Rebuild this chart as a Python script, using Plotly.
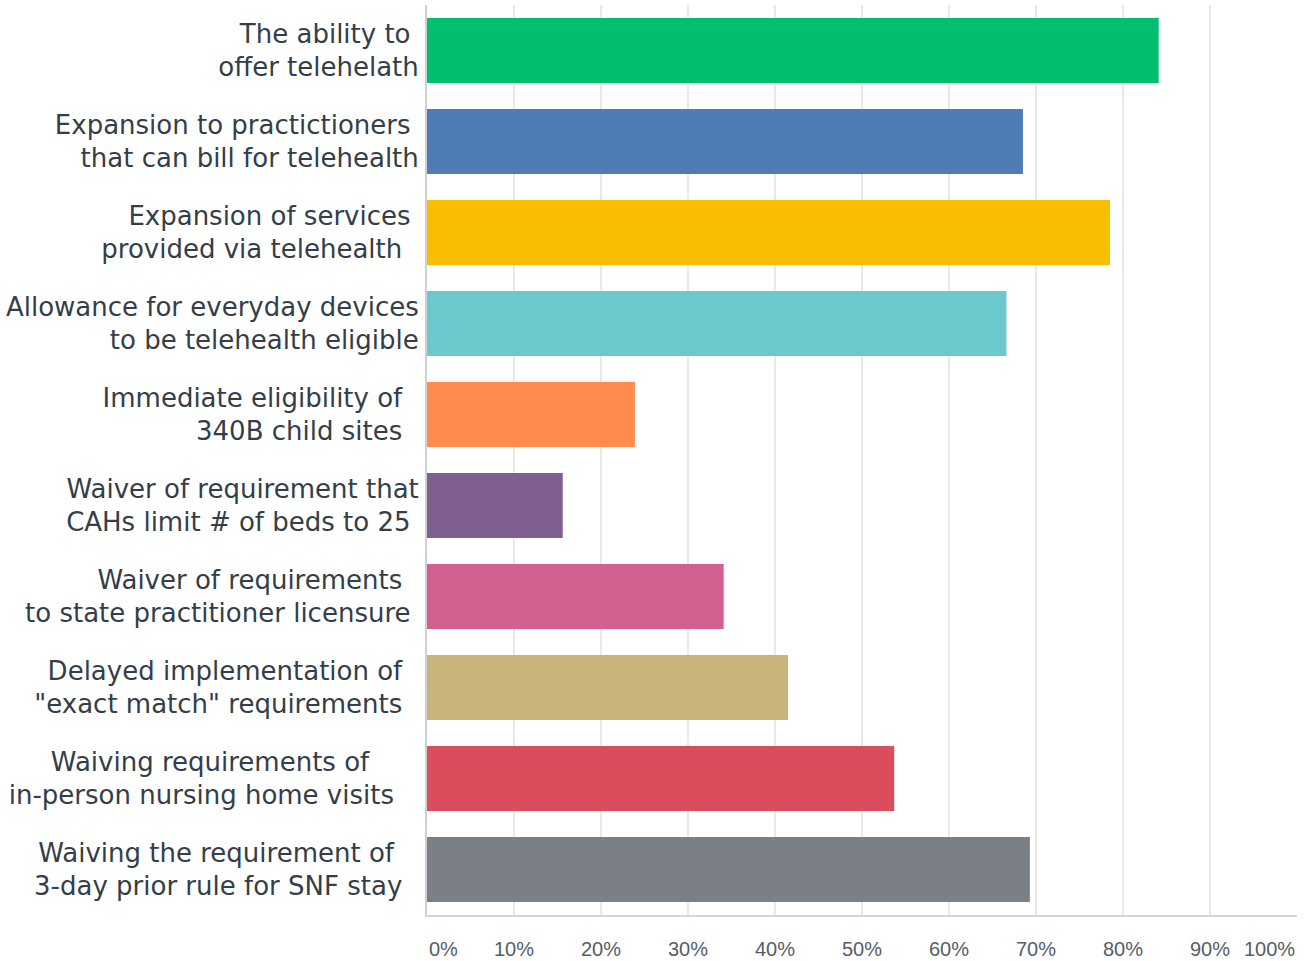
import plotly.graph_objects as go

NB = "\u00a0"

categories = [
    "The ability to" + NB * 1 + "<br>offer telehelath",
    "Expansion to practictioners" + NB * 1 + "<br>that can bill for telehealth",
    "Expansion of services" + NB * 1 + "<br>provided via telehealth" + NB * 2,
    "Allowance for everyday devices<br>to be telehealth eligible",
    "Immediate eligibility of" + NB * 2 + "<br>340B child sites" + NB * 2,
    "Waiver of requirement that<br>CAHs limit # of beds to 25" + NB * 1,
    "Waiver of requirements" + NB * 2 + "<br>to state practitioner licensure" + NB * 1,
    "Delayed implementation of" + NB * 2 + "<br>\"exact match\" requirements" + NB * 2,
    "Waiving requirements of" + NB * 6 + "<br>in-person nursing home visits" + NB * 3,
    "Waiving the requirement of" + NB * 3 + "<br>3-day prior rule for SNF stay" + NB * 2,
]
values = [84.1, 68.5, 78.5, 66.6, 23.9, 15.6, 34.1, 41.5, 53.7, 69.3]
colors = ["#00BF6F", "#507CB6", "#F9BE00", "#6BC8CD", "#FF8B4F",
          "#7F5F90", "#D25F90", "#C9B57B", "#DB4D5C", "#7A8086"]
tick_vals = [0, 10, 20, 30, 40, 50, 60, 70, 80, 90, 100]
tick_text = ["0%", "10%", "20%", "30%", "40%", "50%", "60%",
             "70%", "80%", "90%", "100%"]

tick_font = dict(size=20, color="#545E68", family="Liberation Sans, Arial, sans-serif")

fig = go.Figure(go.Bar(
    x=values, y=categories, orientation="h",
    marker=dict(color=colors, line=dict(width=0)),
    hoverinfo="x+y",
))

# inner ticks drawn by the axis; end ticks as edge-aligned labels (as in the reference)
axis_text = [""] + tick_text[1:-1] + [""]
for v, t, anchor in [(tick_vals[0], tick_text[0], "left"), (tick_vals[-1], tick_text[-1], "right")]:
    fig.add_annotation(x=v, y=0, xref="x", yref="paper", text=t, showarrow=False,
                       xanchor=anchor, yanchor="middle", yshift=-34, font=tick_font)

fig.update_layout(
    width=1304, height=961,
    margin=dict(l=427, r=7, t=5, b=46),
    paper_bgcolor="white", plot_bgcolor="white",
    bargap=0.286,
    showlegend=False,
    font=dict(family="DejaVu Sans, Arial, sans-serif", color="#333E48"),
)
fig.update_xaxes(
    range=[0, 100], tickvals=tick_vals, ticktext=axis_text,
    showgrid=True, gridcolor="#E9E9E9", gridwidth=2,
    zeroline=False, showline=True, linecolor="#D6D6D6", linewidth=2,
    ticks="", ticklabelstandoff=15, automargin=False,
    tickfont=tick_font,
)
fig.update_yaxes(
    autorange="reversed", showgrid=False, zeroline=False,
    showline=True, linecolor="#D0D0D0", linewidth=2,
    ticks="", ticklabelstandoff=1, automargin=False,
    tickfont=dict(size=26, color="#333E48", family="DejaVu Sans, Arial, sans-serif"),
)

fig.write_html(
    "out.html",
    config={"displayModeBar": False},
    post_script="document.body.style.margin='0';document.body.style.overflow='hidden';",
)
